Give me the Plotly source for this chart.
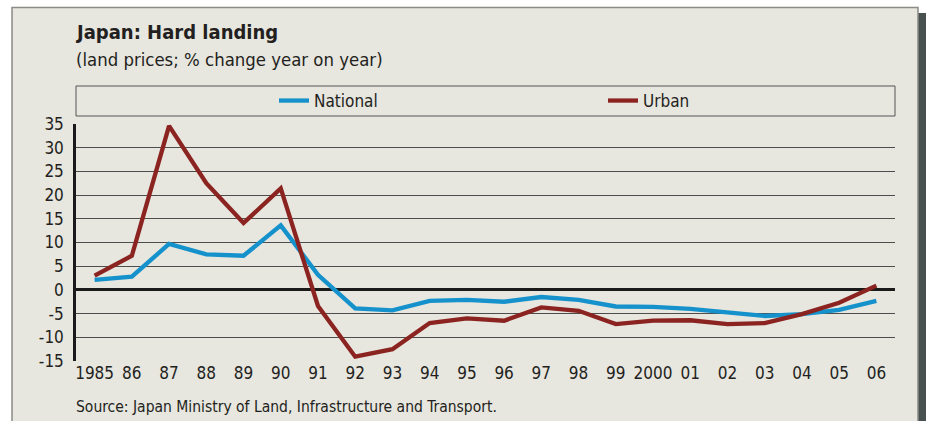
import plotly.graph_objects as go

years = list(range(1985, 2007))
tick_labels = ["1985", "86", "87", "88", "89", "90", "91", "92", "93", "94", "95",
               "96", "97", "98", "99", "2000", "01", "02", "03", "04", "05", "06"]
y_ticks = [-15, -10, -5, 0, 5, 10, 15, 20, 25, 30, 35]
y_tick_labels = ["-15", "-10", "-5", "0", "5", "10", "15", "20", "25", "30", "35"]
national = [2.1, 2.8, 9.7, 7.5, 7.2, 13.6, 3.2, -3.9, -4.3, -2.3, -2.1,
            -2.5, -1.5, -2.1, -3.5, -3.6, -4.0, -4.8, -5.5, -5.1, -4.2, -2.3]
urban = [3.0, 7.2, 34.6, 22.5, 14.1, 21.4, -3.4, -14.1, -12.5, -7.0, -6.0,
         -6.5, -3.7, -4.4, -7.2, -6.5, -6.4, -7.2, -7.0, -5.1, -2.7, 0.9]

W, H = 926, 421
L, R, T, B = 76, 895, 124, 361   # plot area in pixels
PANEL = "#e7e6df"
FONT = "DejaVu Sans Condensed, Liberation Sans Narrow, Roboto, sans-serif"
TXT = "#231f20"

def px(x):
    return (x - L) / (R - L)

def py(y):
    return (B - y) / (B - T)

fig = go.Figure()
fig.add_trace(go.Scatter(x=years, y=national, mode="lines", name="National", legend="legend",
                         line=dict(color="#1592cc", width=4.3)))
fig.add_trace(go.Scatter(x=years, y=urban, mode="lines", name="Urban", legend="legend2",
                         line=dict(color="#8b2420", width=4.3)))

shapes = [
    dict(type="rect", xref="paper", yref="paper", x0=px(918), x1=px(926), y0=py(421), y1=py(13),
         fillcolor="#485050", line=dict(width=0), layer="below"),
    dict(type="rect", xref="paper", yref="paper", x0=px(12), x1=px(918), y0=py(423), y1=py(7.5),
         fillcolor=PANEL, line=dict(color="#8a8a86", width=1.5), layer="below"),
    dict(type="rect", xref="paper", yref="paper", x0=px(76), x1=px(895), y0=py(116), y1=py(86),
         fillcolor="rgba(0,0,0,0)", line=dict(color="#555555", width=1)),
]

annotations = [
    dict(text="<b>Japan: Hard landing</b>", xref="paper", yref="paper", x=px(74), y=py(32),
         xanchor="left", yanchor="middle", showarrow=False, font=dict(size=20, color=TXT, family=FONT)),
    dict(text="(land prices; % change year on year)", xref="paper", yref="paper", x=px(74), y=py(59),
         xanchor="left", yanchor="middle", showarrow=False, font=dict(size=18.4, color=TXT, family=FONT)),
    dict(text="Source: Japan Ministry of Land, Infrastructure and Transport.", xref="paper", yref="paper",
         x=px(74), y=py(407), xanchor="left", yanchor="middle", showarrow=False,
         font=dict(size=15.5, color=TXT, family=FONT)),
]

legend_style = dict(orientation="h", yanchor="middle", xanchor="left", y=py(101),
                    bgcolor="rgba(0,0,0,0)", borderwidth=0,
                    font=dict(size=17, color=TXT, family=FONT))

fig.update_layout(
    width=W, height=H,
    margin=dict(l=L, r=W - R, t=T, b=H - B, pad=0),
    paper_bgcolor="white", plot_bgcolor=PANEL,
    font=dict(family=FONT, color=TXT, size=17),
    shapes=shapes, annotations=annotations,
    showlegend=True,
    legend=dict(x=px(274), **legend_style),
    legend2=dict(x=px(603), **legend_style),
    xaxis=dict(range=[1984.5, 2006.5], tickvals=years, ticktext=tick_labels, showgrid=False,
               zeroline=False, showline=False, ticks="", tickfont=dict(size=17), fixedrange=True),
    yaxis=dict(range=[-15, 35], tickvals=y_ticks, ticktext=y_tick_labels, showgrid=True,
               gridcolor="#4d4d4d", gridwidth=1,
               zeroline=True, zerolinecolor="#1a1a1a", zerolinewidth=2.5,
               showline=True, linecolor="#1a1a1a", linewidth=2.5, ticks="",
               ticklabelstandoff=6, tickfont=dict(size=17), fixedrange=True),
)

fig.write_html("out.html", config={"displayModeBar": False},
               post_script="document.body.style.margin='0';document.body.style.overflow='hidden';")
